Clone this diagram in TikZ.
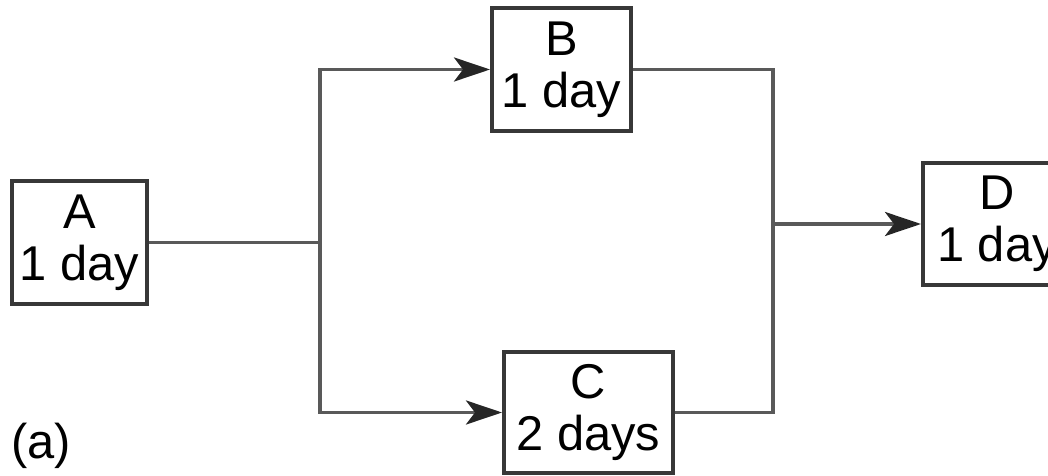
\documentclass[tikz,border=0pt]{standalone}
\usepackage{fontspec}
\setmainfont{Liberation Sans}
\usetikzlibrary{arrows, arrows.meta}
\definecolor{linegray}{gray}{0.35}
\definecolor{boxgray}{gray}{0.22}

\begin{document}
\begin{tikzpicture}[x=0.02cm,y=-0.02cm,
  task/.style={draw=boxgray,line width=0.08cm,inner sep=0pt,align=center,
    font=\fontsize{27.8}{29.6}\selectfont},
  link/.style={draw=linegray,line width=0.075cm},
  flow/.style={link,-{Stealth[length=0.72cm,width=0.48cm,inset=0.18cm,color=black!85]}}]
\clip (0,0) rectangle (1048,476); %picture frame
\node[task,minimum width=2.7cm,minimum height=2.48cm] (A) at (79.5,242.5) {A\\1 day}; %A
\node[task,minimum width=2.78cm,minimum height=2.46cm] (B) at (561.5,69.5) {B\\1 day}; %B
\node[task,minimum width=3.38cm,minimum height=2.42cm] (C) at (588.5,412.5) {C\\2 days}; %C
\node[task,minimum width=2.96cm,minimum height=2.44cm] (D) at (997,224) {D\\1 day}; %D
\coordinate (split) at (320,242.5);
\coordinate (join) at (773,224);
\draw[link] (A) -- (split);
\draw[flow] (split) |- (B);
\draw[flow] (split) |- (C);
\draw[link] (B) -| (join);
\draw[link] (C) -| (join);
\draw[flow] (join) -- (D);
\node[font=\fontsize{27.8}{29.6}\selectfont] (label) at (41,446) {(a)};
\end{tikzpicture}
\end{document}
